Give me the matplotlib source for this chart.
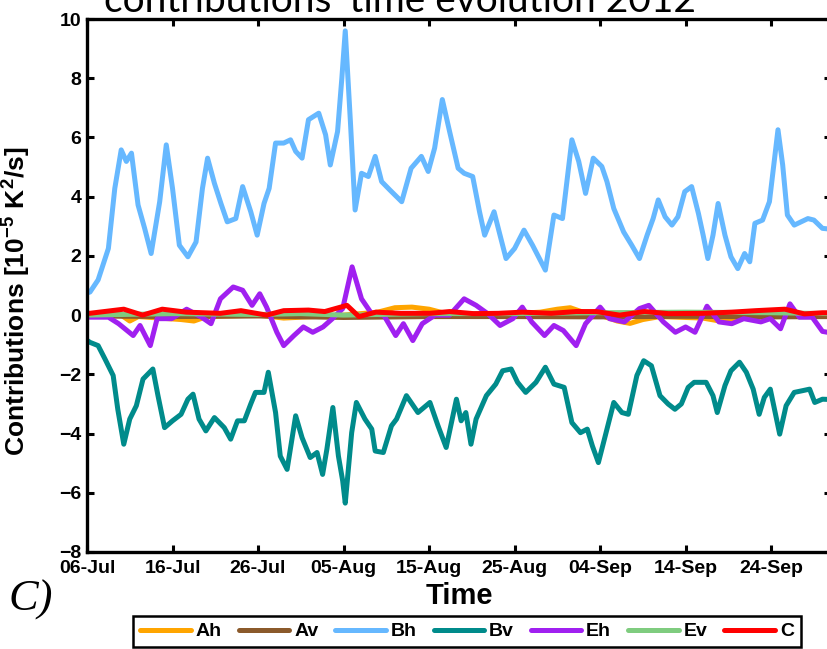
import matplotlib
matplotlib.use("Agg")
import matplotlib.pyplot as plt
import matplotlib.dates as mdates
from matplotlib.ticker import FixedLocator
from datetime import datetime
import numpy as np

# ---------------- data (days since 06-Jul-2012, values in 1e-5 K^2/s) ----------------
start_date = "06-Jul-2012"
end_day = 87.0

bh_day = [0.0, 0.35, 1.3, 2.5, 3.25, 4.0, 4.6, 5.2, 5.97, 6.74, 7.5, 8.5, 9.27, 10.0, 10.8, 11.8,
          12.75, 13.5, 14.1, 14.9, 15.66, 16.4, 17.4, 18.2, 19.15, 19.9, 20.7, 21.3, 22.05, 23.0,
          23.8, 24.4, 25.15, 25.9, 27.1, 27.9, 28.45, 29.3, 29.8, 30.2, 30.8, 31.35, 32.1, 32.9,
          33.7, 34.45, 35.4, 36.8, 37.9, 39.1, 39.9, 40.65, 41.55, 42.4, 43.4, 44.1, 45.1, 45.9,
          46.5, 47.6, 48.2, 49.0, 50.0, 51.1, 52.1, 53.6, 54.6, 55.6, 56.7, 57.5, 58.3, 59.2, 60.2,
          60.8, 61.6, 62.75, 63.7, 64.6, 65.5, 66.2, 66.8, 67.6, 68.4, 69.1, 69.9, 70.7, 71.5,
          72.05, 72.6, 73.2, 73.8, 74.6, 75.3, 76.1, 76.9, 77.5, 78.1, 79.0, 79.8, 80.8, 81.35,
          81.9, 82.7, 83.5, 84.3, 85.0, 86.0, 87.0]
bh_val = [0.75, 0.78, 1.19, 2.25, 4.28, 5.58, 5.19, 5.47, 3.72, 2.93, 2.08, 3.83, 5.75, 4.28, 2.36, 1.97,
          2.47, 4.28, 5.3, 4.45, 3.77, 3.15, 3.26, 4.34, 3.49, 2.7, 3.77, 4.28, 5.81, 5.81,
          5.92, 5.53, 5.3, 6.6, 6.82, 6.09, 5.07, 6.2, 8.0, 9.6, 6.54, 3.55, 4.79, 4.68,
          5.36, 4.51, 4.23, 3.83, 4.96, 5.36, 4.85, 5.64, 7.28, 6.2, 4.96, 4.79, 4.68, 3.49,
          2.7, 3.49, 2.81, 1.91, 2.25, 2.87, 2.36, 1.52, 3.38, 3.26, 5.92, 5.19, 4.11, 5.3, 5.02,
          4.51, 3.6, 2.81, 2.36, 1.91, 2.7, 3.26, 3.89, 3.32, 3.04, 3.32, 4.17, 4.34, 3.43,
          2.7, 1.91, 2.7, 3.77, 2.7, 1.97, 1.57, 2.08, 1.8, 3.1, 3.21, 3.83, 6.26, 5.07,
          3.38, 3.04, 3.15, 3.26, 3.21, 2.93, 2.9]

bv_day = [0.0, 0.35, 1.3, 2.1, 3.06, 3.6, 4.3, 5.0, 5.77, 6.55, 7.7, 8.3, 9.07, 10.0, 11.0, 11.8,
          12.4, 13.1, 13.9, 14.9, 16.05, 16.8, 17.6, 18.4, 19.15, 19.7, 20.7, 21.2, 22.05, 22.6,
          23.4, 24.4, 25.15, 26.1, 26.9, 27.55, 28.05, 28.75, 29.4, 29.9, 30.2, 30.95, 31.5, 32.5,
          33.3, 33.7, 34.65, 35.6, 36.2, 37.35, 38.7, 40.1, 41.05, 42.0, 43.2, 43.75, 44.3, 44.9,
          45.5, 46.7, 47.8, 48.6, 49.6, 50.35, 51.3, 52.5, 53.6, 54.6, 55.8, 56.7, 57.7, 58.5,
          59.1, 59.8, 60.6, 61.6, 62.55, 63.3, 64.3, 65.1, 66.0, 67.0, 67.95, 68.75, 69.5, 70.3,
          71.0, 72.4, 73.2, 73.7, 74.6, 75.3, 76.3, 77.1, 77.9, 78.6, 79.2, 79.9, 81.0, 81.75,
          82.7, 83.7, 84.5, 85.1, 86.0, 87.0]
bv_val = [-0.85, -0.92, -1.03, -1.48, -2.04, -3.18, -4.36, -3.51, -3.06, -2.16, -1.82, -2.72, -3.8,
          -3.57, -3.35, -2.84, -2.67, -3.51, -3.91, -3.46, -3.8, -4.19, -3.57, -3.57, -3.0, -2.61,
          -2.61, -1.93, -3.29, -4.76, -5.21, -3.4, -4.14, -4.81, -4.64, -5.38, -4.53, -3.12, -4.76,
          -5.6, -6.35, -3.97, -2.95, -3.51, -3.85, -4.59, -4.64, -3.74, -3.51, -2.72, -3.29, -2.95,
          -3.74, -4.47, -2.84, -3.57, -3.29, -4.36, -3.51, -2.72, -2.33, -1.88, -1.82, -2.27, -2.61,
          -2.27, -1.76, -2.33, -2.44, -3.63, -3.97, -3.85, -4.42, -4.98, -4.08, -2.95, -3.29, -3.35,
          -2.04, -1.54, -1.71, -2.72, -3.0, -3.18, -3.0, -2.44, -2.27, -2.27, -2.72, -3.29, -2.38,
          -1.88, -1.59, -1.93, -2.5, -3.35, -2.78, -2.5, -4.02, -3.06, -2.61, -2.55, -2.5, -2.95,
          -2.84, -2.85]

eh_day = [0.0, 0.3, 2.5, 3.7, 5.4, 6.2, 7.4, 8.2, 9.9, 11.65, 13.4, 14.5, 15.6, 17.1, 18.2, 19.3,
          20.2, 21.0, 22.2, 23.0, 24.2, 25.3, 26.4, 27.6, 28.7, 29.9, 31.0, 32.1, 33.3, 34.7,
          36.1, 37.0, 38.1, 39.2, 40.7, 42.4, 44.1, 45.5, 46.9, 48.3, 49.8, 50.9, 52.0, 53.5,
          54.6, 55.7, 57.2, 58.3, 60.0, 61.1, 62.85, 64.6, 65.7, 67.4, 68.8, 70.0, 71.1, 72.5,
          73.9, 75.4, 76.8, 78.8, 79.9, 81.1, 82.2, 83.3, 84.8, 86.0, 87.0]
eh_val = [0.0, -0.07, -0.07, -0.29, -0.69, -0.35, -1.03, -0.12, -0.12, 0.2, -0.07, -0.29, 0.55,
          0.95, 0.84, 0.33, 0.72, 0.27, -0.58, -1.03, -0.69, -0.4, -0.58, -0.4, -0.12, 0.22, 1.63,
          0.55, 0.04, 0.0, -0.69, -0.29, -0.86, -0.29, 0.0, 0.0, 0.55, 0.33, 0.04, -0.35, -0.12,
          0.27, -0.23, -0.69, -0.35, -0.52, -1.03, -0.29, 0.27, -0.12, -0.23, 0.22, 0.33, -0.23,
          -0.58, -0.4, -0.58, 0.3, -0.23, -0.29, -0.12, -0.23, -0.12, -0.46, 0.38, -0.07, -0.07,
          -0.55, -0.6]

ah_day = [0, 4, 5.0, 6, 11, 12.5, 14, 20, 23, 30, 34, 36, 38, 40, 42, 46, 50, 53, 55, 56.5, 58,
          60, 62, 63.5, 65, 67, 72, 74, 76, 80, 84, 87]
ah_val = [0.0, 0.0, -0.2, -0.05, -0.15, -0.2, -0.05, 0.0, -0.1, 0.0, 0.1, 0.25, 0.27, 0.2, 0.05,
          0.0, 0.05, 0.1, 0.2, 0.25, 0.1, 0.0, -0.2, -0.28, -0.15, -0.05, -0.1, -0.2, -0.1, -0.05,
          0.0, 0.0]

av_day = [0, 10, 20, 30, 40, 50, 60, 70, 80, 87]
av_val = [-0.03, -0.05, -0.03, -0.08, -0.05, -0.05, -0.06, -0.04, -0.06, -0.05]

ev_day = [0, 10, 20, 25, 30, 40, 50, 60, 70, 80, 87]
ev_val = [0.0, 0.05, 0.02, 0.05, 0.0, 0.05, 0.05, 0.08, 0.1, 0.08, 0.05]

c_day = [0, 0.3, 4.3, 6.5, 8.8, 11.6, 15.6, 18.0, 21.0, 23.0, 25.9, 27.8, 30.4, 31.8, 33.8, 36.7,
         40.1, 42.4, 45.2, 48.1, 50.9, 54.3, 57.2, 59.5, 62.3, 65.2, 68.0, 72.0, 75.4, 78.2,
         81.6, 83.9, 86.0, 87.0]
c_val = [0.08, 0.06, 0.2, 0.0, 0.2, 0.1, 0.06, 0.15, 0.0, 0.15, 0.17, 0.12, 0.33, -0.05, 0.1, 0.06,
         0.06, 0.12, 0.05, 0.06, 0.1, 0.06, 0.12, 0.12, 0.0, 0.12, 0.05, 0.06, 0.1, 0.15, 0.2,
         0.04, 0.08, 0.08]

series_names = ["Ah", "Av", "Bh", "Bv", "Eh", "Ev", "C"]
series_colors = ["#FFA500", "#8B5A2B", "#66B8FF", "#008B8B", "#A020F0", "#7FCC7F", "#FF0000"]

xtick_labels = ["06-Jul", "16-Jul", "26-Jul", "05-Aug", "15-Aug", "25-Aug", "04-Sep", "14-Sep", "24-Sep"]
yticks = [-8, -6, -4, -2, 0, 2, 4, 6, 8, 10]

title_text = "contributions' time evolution 2012"
panel_label = "C)"

plt.rcParams["mathtext.fontset"] = "custom"
plt.rcParams["mathtext.bf"] = "Liberation Sans:bold"
plt.rcParams["mathtext.rm"] = "Liberation Sans:bold"

# ---------------- figure ----------------
W, H = 827, 649
fig = plt.figure(figsize=(W / 100, H / 100), dpi=100)
left_px, right_px, top_px, bottom_px = 87, 831, 19, 552
ax = fig.add_axes([left_px / W, 1 - bottom_px / H, (right_px - left_px) / W, (bottom_px - top_px) / H])

t0 = datetime.strptime(start_date, "%d-%b-%Y")
n0 = mdates.date2num(t0)

def to_num(days):
    return n0 + np.asarray(days, dtype=float)

data = [(ah_day, ah_val), (av_day, av_val), (bh_day, bh_val), (bv_day, bv_val),
        (eh_day, eh_val), (ev_day, ev_val), (c_day, c_val)]
handles = []
for (d, v), name, col in zip(data, series_names, series_colors):
    h, = ax.plot(to_num(d), v, color=col, lw=3.6, label=name,
                 solid_joinstyle="round", solid_capstyle="round")
    handles.append(h)

ax.set_xlim(n0, n0 + end_day)
ax.set_ylim(-8, 10)

tick_pos = [mdates.date2num(datetime.strptime(l + "-2012", "%d-%b-%Y")) for l in xtick_labels]
ax.xaxis.set_major_locator(FixedLocator(tick_pos))
ax.xaxis.set_major_formatter(mdates.DateFormatter("%d-%b"))
ax.set_yticks(yticks)

for lbl in ax.get_xticklabels() + ax.get_yticklabels():
    lbl.set_fontfamily(["Liberation Sans", "DejaVu Sans"])
    lbl.set_fontweight("bold")
    lbl.set_fontsize(14)

ax.tick_params(direction="in", length=5, width=2.2, top=True, right=True, colors="black")
ax.tick_params(axis="x", pad=6)
ax.tick_params(axis="y", pad=4)
for s in ax.spines.values():
    s.set_linewidth(2.4)

ax.set_xlabel("Time", fontsize=21, fontweight="bold", family=["Liberation Sans", "DejaVu Sans"])
ax.xaxis.set_label_coords(0.5, -0.056)
ax.set_ylabel("Contributions [10$^{\\mathbf{-5}}$ K$^{\\mathbf{2}}$/s]", fontsize=19, fontweight="bold",
              family=["Liberation Sans", "DejaVu Sans"])
ax.yaxis.set_label_coords(-0.074, 0.47)

fig.text(400 / W, 1 - 12 / H, title_text, ha="center", va="baseline", fontsize=28,
         family=["Lato", "DejaVu Sans"])
fig.text(9 / W, 1 - 611 / H, panel_label, ha="left", va="baseline", fontsize=32,
         family=["Liberation Serif", "DejaVu Serif"], style="italic")

leg = fig.legend(handles, series_names, loc="center", bbox_to_anchor=(467 / W, 1 - 631.5 / H),
                 ncol=7, frameon=True, fancybox=False, edgecolor="black", framealpha=1,
                 handlelength=2.6, handletextpad=0.25, columnspacing=0.87, borderpad=0.35,
                 borderaxespad=0, prop=dict(family=["Liberation Sans", "DejaVu Sans"], weight="bold", size=14))
leg.get_frame().set_linewidth(1.8)
for lh in leg.get_lines():
    lh.set_linewidth(3.6)

fig.savefig("out.png", dpi=100)
